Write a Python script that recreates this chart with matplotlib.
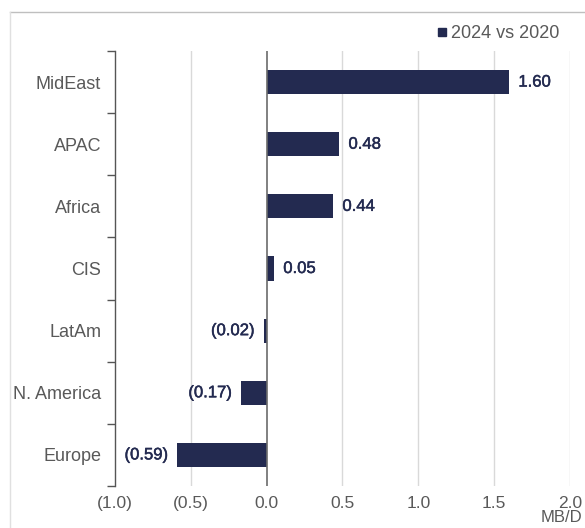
import matplotlib
matplotlib.use("Agg")
import matplotlib.pyplot as plt
import matplotlib.patheffects as pe
from matplotlib.lines import Line2D

plt.rcParams['font.family'] = ['Liberation Sans', 'DejaVu Sans']

regions = ['MidEast', 'APAC', 'Africa', 'CIS', 'LatAm', 'N. America', 'Europe']
change = [1.60, 0.48, 0.44, 0.05, -0.02, -0.17, -0.59]
series_name = '2024 vs 2020'
xticks = [-1.0, -0.5, 0.0, 0.5, 1.0, 1.5, 2.0]
xtick_labels = ['(1.0)', '(0.5)', '0.0', '0.5', '1.0', '1.5', '2.0']
unit = 'MB/D'

navy = '#232a50'
tick_grey = '#595959'

fig = plt.figure(figsize=(5.85, 5.28), dpi=100)
ax = fig.add_axes([115 / 585, 1 - 486 / 528, 455 / 585, 435 / 528])

ypos = list(range(len(regions)))[::-1]
ax.barh(ypos, change, height=0.39, color=navy, zorder=3)

def fmt(v):
    return f'({abs(v):.2f})' if v < 0 else f'{v:.2f}'

# slightly heavier than regular for the value labels
medium = [pe.withStroke(linewidth=0.35, foreground=navy)]
for y, v in zip(ypos, change):
    off, ha = (6.5, 'left') if v >= 0 else (-6.5, 'right')
    ax.annotate(fmt(v), (v, y), xytext=(off, 0), textcoords='offset points',
                ha=ha, va='center', color=navy, fontsize=12,
                path_effects=medium, zorder=4)

ax.set_xlim(-1.0, 2.0)
ax.set_ylim(-0.5, len(regions) - 0.5)
ax.set_xticks(xticks)
ax.set_xticklabels(xtick_labels)
ax.tick_params(axis='x', length=0, pad=7, labelsize=12.5, labelcolor=tick_grey)

# category labels sit between the tick marks at the band edges
ax.set_yticks([i - 0.5 for i in range(len(regions) + 1)])
ax.set_yticklabels([])
ax.set_yticks(ypos, labels=regions, minor=True)
ax.tick_params(axis='y', which='major', length=6, width=1, color='#555555', direction='out')
ax.tick_params(axis='y', which='minor', length=0, pad=10, labelsize=13, labelcolor=tick_grey)

for x in [-0.5, 0.5, 1.0, 1.5, 2.0]:
    ax.axvline(x, color='#d9d9d9', lw=1, zorder=1)
ax.axvline(0, color='#6b6b6b', lw=1.2, zorder=4)

for s in ['top', 'right', 'bottom']:
    ax.spines[s].set_visible(False)
ax.spines['left'].set_color('#555555')
ax.spines['left'].set_linewidth(1)

fig.text(582 / 585, 1 - 517 / 528, unit, ha='right', va='center',
         fontsize=12, color=tick_grey)

handle = Line2D([], [], marker='s', ls='none', color=navy, markersize=6)
fig.legend([handle], [series_name], loc='upper right',
           bbox_to_anchor=(567 / 585, 1 - 18 / 528), frameon=False,
           fontsize=13, handletextpad=0.1, handlelength=0.8,
           borderaxespad=0, labelcolor=tick_grey)

# outer frame lines (top and left)
fig.add_artist(Line2D([10 / 585, 1], [1 - 12 / 528, 1 - 12 / 528],
                      transform=fig.transFigure, color='#bfbfbf', lw=1))
fig.add_artist(Line2D([10 / 585, 10 / 585], [0, 1 - 12 / 528],
                      transform=fig.transFigure, color='#e0e0e0', lw=1))

fig.savefig('out.png', dpi=100)
